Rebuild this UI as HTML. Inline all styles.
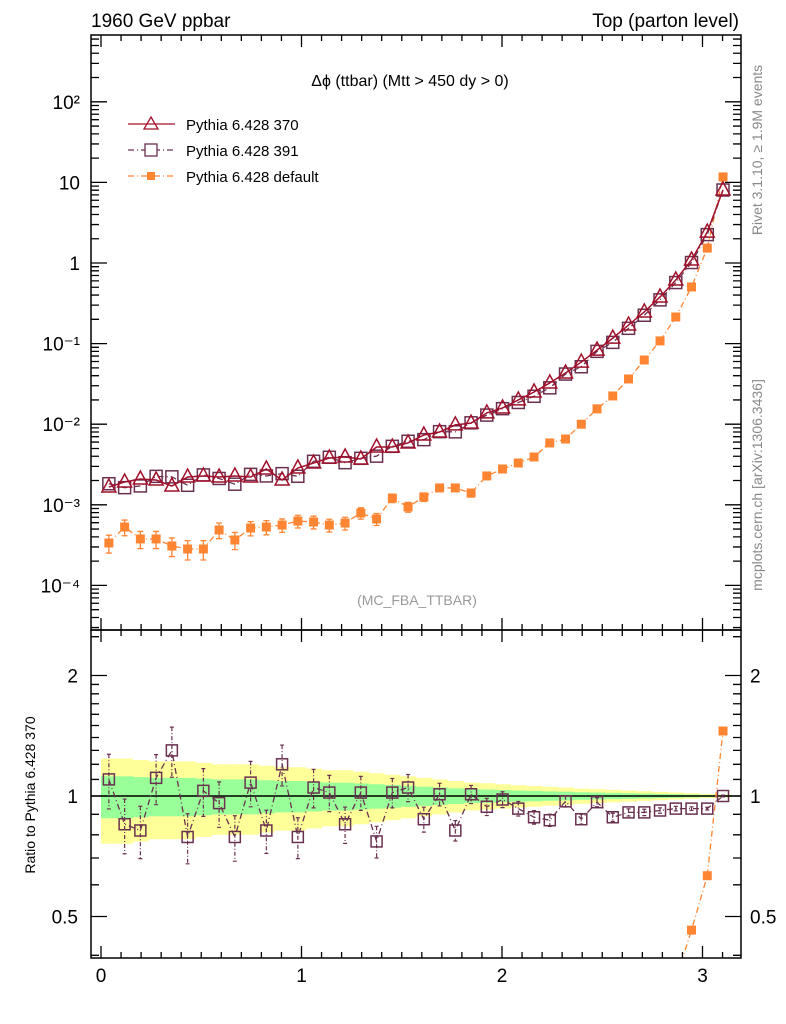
<!DOCTYPE html>
<html><head><meta charset="utf-8"><style>
html,body{margin:0;padding:0;background:#fff;width:786px;height:1024px;overflow:hidden;}
svg{display:block;font-family:"Liberation Sans",sans-serif;}
</style></head><body>
<svg id="chart" width="786" height="1024">
<text x="91" y="27" font-size="19">1960 GeV ppbar</text>
<text x="739" y="27" font-size="19" text-anchor="end">Top (parton level)</text>
<text x="410" y="86" font-size="16" text-anchor="middle">Δϕ (ttbar) (Mtt &gt; 450 dy &gt; 0)</text>
<text x="417" y="605" font-size="14" fill="#999" text-anchor="middle">(MC_FBA_TTBAR)</text>
<text transform="translate(762,150) rotate(-90)" font-size="14" fill="#888" text-anchor="middle">Rivet 3.1.10, ≥ 1.9M events</text>
<text transform="translate(762,485) rotate(-90)" font-size="14" fill="#888" text-anchor="middle">mcplots.cern.ch [arXiv:1306.3436]</text>
<text transform="translate(35,795) rotate(-90)" font-size="14" text-anchor="middle">Ratio to Pythia 6.428 370</text>
<g id="legend">
<g><line x1="128" y1="124" x2="175" y2="124" stroke="#a0102a" stroke-width="1.3"/><polygon points="151,117 158,129 144,129" fill="none" stroke="#a0102a" stroke-width="1.3"/><text x="186" y="130" font-size="15">Pythia 6.428 370</text></g>
<g><line x1="128" y1="150" x2="175" y2="150" stroke="#6a3050" stroke-width="1.3" stroke-dasharray="6,3,1,3"/><rect x="145" y="144" width="12" height="12" fill="#fff" stroke="#6a3050" stroke-width="1.3"/><text x="186" y="156" font-size="15">Pythia 6.428 391</text></g>
<g><line x1="128" y1="176" x2="175" y2="176" stroke="#ff8533" stroke-width="1.3" stroke-dasharray="6,3,1,3"/><rect x="147" y="172" width="8" height="8" fill="#ff8533"/><text x="186" y="182" font-size="15">Pythia 6.428 default</text></g>
</g>
<g id="ratio-bands"></g>
<g id="marks"></g>
<g id="axes"></g>
</svg>
<script>
const nBins = 40;
const binWidth = Math.PI / 40;
const v370 = [1.66e-3,1.92e-3,2.09e-3,2.03e-3,1.71e-3,2.21e-3,2.28e-3,2.21e-3,2.28e-3,2.21e-3,2.78e-3,2.03e-3,2.86e-3,3.30e-3,3.81e-3,3.92e-3,3.70e-3,5.21e-3,5.21e-3,5.85e-3,7.35e-3,8.0e-3,9.8e-3,1.03e-2,1.38e-2,1.59e-2,2.0e-2,2.51e-2,3.25e-2,4.32e-2,5.9e-2,8.3e-2,0.117,0.170,0.247,0.379,0.615,1.09,2.42,8.05];
const ratio391 = [1.10,0.85,0.82,1.11,1.30,0.79,1.03,0.96,0.79,1.08,0.82,1.20,0.79,1.05,1.02,0.85,1.02,0.77,1.02,1.05,0.875,1.01,0.82,1.01,0.94,0.98,0.93,0.885,0.87,0.97,0.875,0.965,0.885,0.91,0.91,0.92,0.93,0.93,0.93,1.00];
const vDefault = [3.36e-4,5.3e-4,3.77e-4,3.77e-4,3.08e-4,2.83e-4,2.83e-4,4.87e-4,3.66e-4,5.15e-4,5.3e-4,5.61e-4,6.29e-4,6.12e-4,5.61e-4,5.94e-4,7.91e-4,6.67e-4,1.21e-3,9.4e-4,1.25e-3,1.62e-3,1.62e-3,1.40e-3,2.28e-3,2.78e-3,3.30e-3,3.92e-3,5.85e-3,6.55e-3,1.0e-2,1.55e-2,2.24e-2,3.64e-2,6.26e-2,0.108,0.214,0.504,1.53,11.7];
const relErr = [0.12,0.12,0.115,0.11,0.11,0.11,0.105,0.10,0.10,0.10,0.095,0.09,0.09,0.085,0.08,0.08,0.075,0.07,0.065,0.06,0.055,0.05,0.045,0.04,0.038,0.035,0.032,0.03,0.027,0.025,0.022,0.02,0.018,0.016,0.014,0.012,0.01,0.008,0.006,0.004];
const relErrDefault = [0.25,0.22,0.24,0.24,0.26,0.27,0.27,0.22,0.24,0.2,0.2,0.19,0.18,0.18,0.18,0.18,0.16,0.17,0.12,0.14,0.12,0.1,0.1,0.11,0.09,0.08,0.07,0.06,0.05,0.05,0.04,0.03,0.03,0.02,0.02,0.015,0.01,0.008,0.005,0.003];
const xTicks = [0,1,2,3];
const mainTicks = [-4,-3,-2,-1,0,1,2];
const mainTickLabels = ["10⁻⁴","10⁻³","10⁻²","10⁻¹","1","10","10²"];
const ratioTicks = [0.5,1,2];

const NS = "http://www.w3.org/2000/svg";
const L=91,R=741,MT=35,MB=630,RT=630,RB=958;
const X = x => 101 + x*200.5;
const Y = v => 263 - 80.6*Math.log10(v);
const YR = r => 796 - 120.5*Math.log2(r);
const marks = document.getElementById('marks');
const axes = document.getElementById('axes');
const bands = document.getElementById('ratio-bands');
function el(tag, attrs, parent){const e=document.createElementNS(NS,tag);for(const k in attrs)e.setAttribute(k,attrs[k]);parent.appendChild(e);return e;}
const cx = i => X((i+0.5)*binWidth);

for(let i=0;i<nBins;i++){
  const x0=X(i*binWidth), x1=X((i+1)*binWidth);
  const b1 = el('rect',{x:x0,y:YR(1+2*relErr[i]),width:x1-x0+0.5,height:YR(1-2*relErr[i])-YR(1+2*relErr[i]),fill:'#ffff99'},bands);
  
  
}
for(let i=0;i<nBins;i++){
  const x0=X(i*binWidth), x1=X((i+1)*binWidth);
  const b2 = el('rect',{x:x0,y:YR(1+relErr[i]),width:x1-x0+0.5,height:YR(1-relErr[i])-YR(1+relErr[i]),fill:'#99ff99'},bands);
  
  
}
const ref = el('line',{x1:L,x2:R,y1:YR(1),y2:YR(1),stroke:'#000','stroke-width':1.5},bands);



let p='';
for(let i=0;i<nBins;i++) p+=(i?'L':'M')+cx(i)+','+Y(vDefault[i]);
const dl = el('path',{d:p,fill:'none',stroke:'#ff8533','stroke-width':1.3,'stroke-dasharray':'6,3,1,3'},marks);


for(let i=0;i<nBins;i++){
  const x=cx(i), v=vDefault[i], e=relErrDefault[i];
  const eb = el('path',{d:`M${x},${Y(v*(1+e))}V${Y(v*(1-e))}M${x-3},${Y(v*(1+e))}h6M${x-3},${Y(v*(1-e))}h6`,stroke:'#ff8533','stroke-width':1.3},marks);
  
  
  const m = el('rect',{x:x-4.5,y:Y(v)-4.5,width:9,height:9,fill:'#ff8533'},marks);
  
  
}
p='';
for(let i=0;i<nBins;i++) p+=(i?'L':'M')+cx(i)+','+Y(v370[i]*ratio391[i]);
const pl = el('path',{d:p,fill:'none',stroke:'#6a3050','stroke-width':1.3,'stroke-dasharray':'6,3,1,3'},marks);


for(let i=0;i<nBins;i++){
  const m = el('rect',{x:cx(i)-6,y:Y(v370[i]*ratio391[i])-6,width:12,height:12,fill:'none',stroke:'#6a3050','stroke-width':1.5},marks);
  
  
}
p='';
for(let i=0;i<nBins;i++) p+=(i?'L':'M')+cx(i)+','+Y(v370[i]);
const rl = el('path',{d:p,fill:'none',stroke:'#a0102a','stroke-width':1.5},marks);


for(let i=0;i<nBins;i++){
  const x=cx(i), y=Y(v370[i]);
  const m = el('polygon',{points:`${x},${y-8} ${x+7},${y+5} ${x-7},${y+5}`,fill:'none',stroke:'#a0102a','stroke-width':1.5},marks);
  
  
}
p='';
for(let i=0;i<nBins;i++) p+=(i?'L':'M')+cx(i)+','+YR(ratio391[i]);
const prl = el('path',{d:p,fill:'none',stroke:'#6a3050','stroke-width':1.3,'stroke-dasharray':'6,3,1,3'},marks);


for(let i=0;i<nBins;i++){
  const x=cx(i), r=ratio391[i], e=relErr[i]*1.3;
  const eb = el('path',{d:`M${x},${YR(r*(1+e))}V${YR(r*(1-e))}M${x-2},${YR(r*(1+e))}h4M${x-2},${YR(r*(1-e))}h4`,stroke:'#6a3050','stroke-width':1.2,'stroke-dasharray':'4,2,1,2'},marks);
  
  
  const m = el('rect',{x:x-5.5,y:YR(r)-5.5,width:11,height:11,fill:'none',stroke:'#6a3050','stroke-width':1.5},marks);
  
  
}
const cp = el('clipPath',{id:'rc'},marks); el('rect',{x:L,y:RT,width:R-L,height:RB-RT},cp);
p='';
for(let i=0;i<nBins;i++) p+=(i?'L':'M')+cx(i)+','+YR(vDefault[i]/v370[i]);
const drl = el('path',{d:p,fill:'none',stroke:'#ff8533','stroke-width':1.3,'stroke-dasharray':'6,3,1,3','clip-path':'url(#rc)'},marks);


for(let i=0;i<nBins;i++){
  const y=YR(vDefault[i]/v370[i]);
  if(y<RT||y>RB) continue;
  const m = el('rect',{x:cx(i)-4.5,y:y-4.5,width:9,height:9,fill:'#ff8533'},marks);
  
  
}

const f1 = el('rect',{x:L,y:MT,width:R-L,height:MB-MT,fill:'none',stroke:'#000','stroke-width':1.5},axes);


const f2 = el('rect',{x:L,y:RT,width:R-L,height:RB-RT,fill:'none',stroke:'#000','stroke-width':1.5},axes);


let tp='';
for(let k=0;k<=32;k++){
  const x=X(k/10); if(x<L||x>R) continue;
  const len = k%10===0?12:6;
  tp+=`M${x},${MB}v${-len}M${x},${MT}v${len}M${x},${RB}v${-len}M${x},${RT}v${len}`;
}
for(let d=-5; d<=2; d++){
  for(let m=1;m<=9;m++){
    const y=Y(m*Math.pow(10,d)); if(y<MT||y>MB) continue;
    const len = m===1?16:8;
    tp+=`M${L},${y}h${len}M${R},${y}h${-len}`;
  }
}
[0.4,0.5,0.6,0.7,0.8,0.9,1,1.1,1.2,1.3,1.4,1.5,1.6,1.7,1.8,1.9,2,2.5].forEach(r=>{
  const y=YR(r); if(y<RT||y>RB) return;
  const len = ratioTicks.includes(r)?16:8;
  tp+=`M${L},${y}h${len}M${R},${y}h${-len}`;
});
const tk = el('path',{d:tp,stroke:'#000','stroke-width':1.3,fill:'none'},axes);


xTicks.forEach(t=>{
  const tx = el('text',{x:X(t),y:982,'font-size':19,'text-anchor':'middle'},axes);
  tx.textContent=t;
  
  
});
mainTicks.forEach((d,i)=>{
  const tx = el('text',{x:80,y:Y(Math.pow(10,d))+7,'font-size':19,'text-anchor':'end'},axes);
  tx.textContent=mainTickLabels[i];
  
  
});
ratioTicks.forEach(r=>{
  const t1 = el('text',{x:78,y:YR(r)+7,'font-size':19,'text-anchor':'end'},axes);
  t1.textContent=r;
  
  
  const t2 = el('text',{x:750,y:YR(r)+7,'font-size':19,'text-anchor':'start'},axes);
  t2.textContent=r;
  
  
});
</script>
</body></html>
